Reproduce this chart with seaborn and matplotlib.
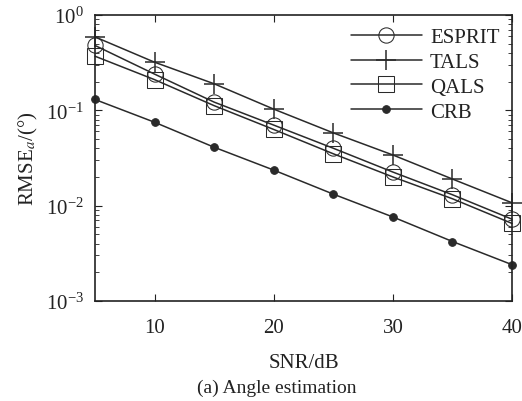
import numpy as np
import pandas as pd
import seaborn as sns
import matplotlib
matplotlib.use('Agg')
import matplotlib.pyplot as plt
from matplotlib.ticker import LogLocator, NullFormatter

snr = [5, 10, 15, 20, 25, 30, 35, 40]
esprit = [0.48, 0.24, 0.122, 0.070, 0.040, 0.0225, 0.013, 0.0072]
tals = [0.59, 0.32, 0.19, 0.103, 0.058, 0.034, 0.019, 0.0107]
qals = [0.37, 0.21, 0.112, 0.063, 0.035, 0.020, 0.0118, 0.0065]
crb = [0.13, 0.075, 0.041, 0.0236, 0.0132, 0.0076, 0.0042, 0.0024]

sns.set_style('ticks')
plt.rcParams['font.family'] = ['Liberation Serif', 'DejaVu Serif']
plt.rcParams['mathtext.fontset'] = 'stix'

fig = plt.figure(figsize=(5.22, 4.02), dpi=100)
ax = fig.add_axes([0.182, 0.249, 0.799, 0.711])

c = '#2a2a2a'
series = [('ESPRIT', esprit, dict(marker='o', markersize=11, markerfacecolor='none')),
          ('TALS', tals, dict(marker='+', markersize=15, markeredgewidth=1.1)),
          ('QALS', qals, dict(marker='s', markersize=12, markerfacecolor='none')),
          ('CRB', crb, dict(marker='o', markersize=5.5, markerfacecolor=c))]
for name, vals, kw in series:
    df = pd.DataFrame({'snr': snr, 'rmse': vals})
    sns.lineplot(data=df, x='snr', y='rmse', ax=ax, color=c, linewidth=1.1,
                 markeredgecolor=c, label=name, clip_on=False, **kw)

ax.set_yscale('log')
ax.set_xlim(5, 40)
ax.set_ylim(1e-3, 1)
ax.set_xticks([10, 20, 30, 40])
ax.yaxis.set_major_locator(LogLocator(base=10, numticks=10))
ax.yaxis.set_minor_locator(LogLocator(base=10, subs=np.arange(2, 10), numticks=10))
ax.yaxis.set_minor_formatter(NullFormatter())
ax.tick_params(direction='in', which='both', top=True, right=True, labelsize=15, colors='#222222')
ax.tick_params(axis='x', pad=12)
ax.tick_params(axis='y', pad=8)
ax.tick_params(which='major', length=5)
ax.tick_params(which='minor', length=3)
for s in ax.spines.values():
    s.set_color('#222222')
    s.set_linewidth(1.2)

ax.set_xlabel('SNR/dB', fontsize=15, color='#222222', labelpad=12)
ax.set_ylabel('RMSE$_a$/(°)', fontsize=15, color='#222222', labelpad=4)

leg = ax.legend(loc='upper right', frameon=False, fontsize=15, handlelength=3.4,
                handletextpad=0.4, labelspacing=0.25, borderaxespad=0.2)
for t in leg.get_texts():
    t.set_color('#222222')

fig.text(0.53, 0.012, '(a) Angle estimation', ha='center', va='bottom', fontsize=14, color='#222222')

fig.savefig('out.png', dpi=100)
